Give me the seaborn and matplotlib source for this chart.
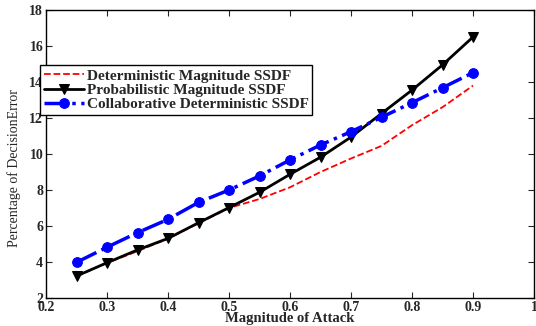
import numpy as np
import pandas as pd
import matplotlib
matplotlib.use("Agg")
import matplotlib.pyplot as plt
import seaborn as sns

# data
attack = [0.25, 0.30, 0.35, 0.40, 0.45, 0.50, 0.55, 0.60, 0.65, 0.70, 0.75, 0.80, 0.85, 0.90]
deterministic = [3.2, 3.95, 4.6, 5.3, 6.15, 7.0, 7.5, 8.15, 9.0, 9.75, 10.45, 11.6, 12.6, 13.8]
probabilistic = [3.22, 3.96, 4.67, 5.31, 6.18, 7.02, 7.87, 8.87, 9.82, 10.94, 12.25, 13.55, 14.95, 16.5]
collaborative = [3.98, 4.82, 5.63, 6.37, 7.31, 8.0, 8.78, 9.67, 10.5, 11.24, 12.04, 12.85, 13.68, 14.52]

labels = ["Deterministic Magnitude SSDF",
          "Probabilistic Magnitude SSDF",
          "Collaborative Deterministic SSDF"]
xticks = [0.2, 0.3, 0.4, 0.5, 0.6, 0.7, 0.8, 0.9, 1]
yticks = [2, 4, 6, 8, 10, 12, 14, 16, 18]

sns.set_style("ticks")
plt.rcParams['font.family'] = ['Liberation Serif', 'DejaVu Serif']

df = pd.DataFrame({"attack": attack, "det": deterministic,
                   "prob": probabilistic, "coll": collaborative})

fig = plt.figure(figsize=(5.36, 3.26), dpi=100)
ax = fig.add_axes([46 / 536, 28 / 326, 488 / 536, 288 / 326])

sns.lineplot(data=df, x="attack", y="det", ax=ax, color="red",
             linestyle="--", linewidth=1.3, label=labels[0])
sns.lineplot(data=df, x="attack", y="prob", ax=ax, color="black",
             linestyle="-", linewidth=2, marker="v", markersize=7,
             markeredgecolor="black", label=labels[1])
sns.lineplot(data=df, x="attack", y="coll", ax=ax, color="blue",
             linestyle="-.", linewidth=2.5, marker="o", markersize=7,
             markeredgecolor="blue", label=labels[2])

ax.set_xlim(0.2, 1)
ax.set_ylim(2, 18)
ax.set_xticks(xticks)
ax.set_xticklabels(["0.2", "0.3", "0.4", "0.5", "0.6", "0.7", "0.8", "0.9", "1"])
ax.set_yticks(yticks)
ax.tick_params(direction="in", top=True, right=True, length=4, width=0.8,
               labelsize=10, pad=2)
for t in ax.get_xticklabels() + ax.get_yticklabels():
    t.set_fontweight("bold")
for s in ax.spines.values():
    s.set_visible(True)
    s.set_color("black")
    s.set_linewidth(1)

ax.set_xlabel("Magnitude of Attack", fontsize=10.5, fontweight="bold", labelpad=-1)
ax.set_ylabel("Percentage of DecisionError", fontsize=10)
ax.yaxis.set_label_coords(-0.052, 0.45)

leg = ax.legend(loc="upper left", bbox_to_anchor=(40 / 536, 1 - 65 / 326),
                bbox_transform=fig.transFigure, borderaxespad=0,
                prop={"weight": "bold", "size": 11}, frameon=True,
                fancybox=False, edgecolor="black", framealpha=1,
                handlelength=2.6, handletextpad=0.2, labelspacing=0.05,
                borderpad=0.25, numpoints=1)
leg.get_frame().set_linewidth(1)

fig.savefig("out.png", dpi=100)
